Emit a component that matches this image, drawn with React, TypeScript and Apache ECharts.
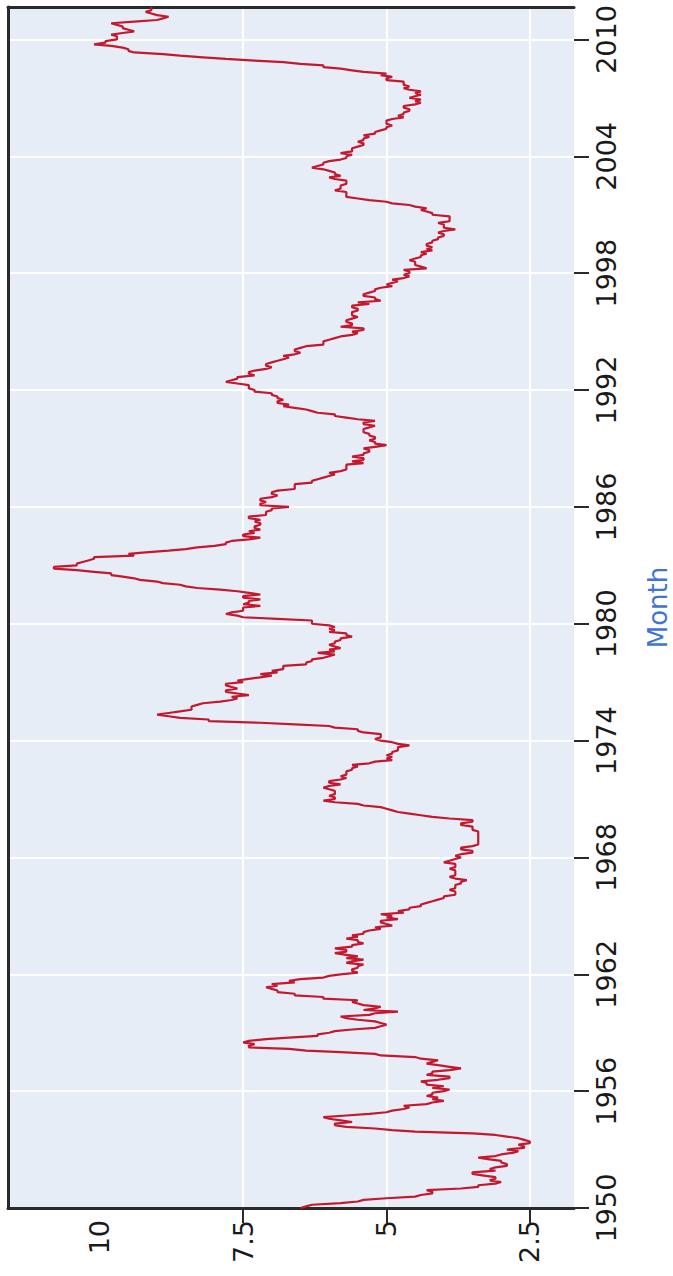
import React, { useEffect, useRef } from "react";
import * as echarts from "echarts";

// US unemployment rate, monthly, by decade (Jan of first year onward)
const u1950s = [
  6.5, 6.4, 6.3, 5.8, 5.5, 5.4, 5.0, 4.5, 4.4, 4.2, 4.2, 4.3,
  3.7, 3.4, 3.4, 3.1, 3.0, 3.2, 3.1, 3.1, 3.3, 3.5, 3.5, 3.1,
  3.2, 3.1, 2.9, 2.9, 3.0, 3.0, 3.2, 3.4, 3.1, 3.0, 2.8, 2.7,
  2.9, 2.6, 2.6, 2.7, 2.5, 2.5, 2.6, 2.7, 2.9, 3.1, 3.5, 4.5,
  4.9, 5.2, 5.7, 5.9, 5.9, 5.6, 5.8, 6.0, 6.1, 5.7, 5.3, 5.0,
  4.9, 4.7, 4.6, 4.7, 4.3, 4.2, 4.0, 4.2, 4.1, 4.3, 4.2, 4.2,
  4.0, 3.9, 4.2, 4.0, 4.3, 4.3, 4.4, 4.1, 3.9, 3.9, 4.3, 4.2,
  4.2, 3.9, 3.7, 3.9, 4.1, 4.3, 4.2, 4.1, 4.4, 4.5, 5.1, 5.2,
  5.8, 6.4, 6.7, 7.4, 7.4, 7.3, 7.5, 7.4, 7.1, 6.7, 6.2, 6.2,
  6.0, 5.9, 5.6, 5.2, 5.1, 5.0, 5.1, 5.2, 5.5, 5.7, 5.8, 5.3,
];
const u1960s = [
  5.2, 4.8, 5.4, 5.2, 5.1, 5.4, 5.5, 5.6, 5.5, 6.1, 6.1, 6.6,
  6.6, 6.9, 6.9, 7.0, 7.1, 6.9, 7.0, 6.6, 6.7, 6.5, 6.1, 6.0,
  5.8, 5.5, 5.6, 5.6, 5.5, 5.5, 5.4, 5.7, 5.6, 5.4, 5.7, 5.5,
  5.7, 5.9, 5.7, 5.7, 5.9, 5.6, 5.6, 5.4, 5.5, 5.5, 5.7, 5.5,
  5.6, 5.4, 5.4, 5.3, 5.1, 5.2, 4.9, 5.0, 5.1, 5.1, 4.8, 5.0,
  4.9, 5.1, 4.7, 4.8, 4.6, 4.6, 4.4, 4.4, 4.3, 4.2, 4.1, 4.0,
  4.0, 3.8, 3.8, 3.8, 3.9, 3.8, 3.8, 3.8, 3.7, 3.7, 3.6, 3.8,
  3.9, 3.8, 3.8, 3.8, 3.8, 3.9, 3.8, 3.8, 3.8, 4.0, 3.9, 3.8,
  3.7, 3.8, 3.7, 3.5, 3.5, 3.7, 3.7, 3.5, 3.4, 3.4, 3.4, 3.4,
  3.4, 3.4, 3.4, 3.4, 3.4, 3.5, 3.5, 3.5, 3.7, 3.7, 3.5, 3.5,
];
const u1970s = [
  3.9, 4.2, 4.4, 4.6, 4.8, 4.9, 5.0, 5.1, 5.4, 5.5, 5.9, 6.1,
  5.9, 5.9, 6.0, 5.9, 5.9, 5.9, 6.0, 6.1, 6.0, 5.8, 6.0, 6.0,
  5.8, 5.7, 5.8, 5.7, 5.7, 5.7, 5.6, 5.6, 5.5, 5.6, 5.3, 5.2,
  4.9, 5.0, 4.9, 5.0, 4.9, 4.9, 4.8, 4.8, 4.8, 4.6, 4.8, 4.9,
  5.1, 5.2, 5.1, 5.1, 5.1, 5.4, 5.5, 5.5, 5.9, 6.0, 6.6, 7.2,
  8.1, 8.1, 8.6, 8.8, 9.0, 8.8, 8.6, 8.4, 8.4, 8.4, 8.3, 8.2,
  7.9, 7.7, 7.6, 7.7, 7.4, 7.6, 7.8, 7.8, 7.6, 7.7, 7.8, 7.8,
  7.5, 7.6, 7.4, 7.2, 7.0, 7.2, 6.9, 7.0, 6.8, 6.8, 6.8, 6.4,
  6.4, 6.3, 6.3, 6.1, 6.0, 5.9, 6.2, 5.9, 6.0, 5.8, 5.9, 6.0,
  5.9, 5.9, 5.8, 5.8, 5.6, 5.7, 5.7, 6.0, 5.9, 6.0, 5.9, 6.0,
];
const u1980s = [
  6.3, 6.3, 6.3, 6.9, 7.5, 7.6, 7.8, 7.7, 7.5, 7.5, 7.5, 7.2,
  7.5, 7.4, 7.4, 7.2, 7.5, 7.5, 7.2, 7.4, 7.6, 7.9, 8.3, 8.5,
  8.6, 8.9, 9.0, 9.3, 9.4, 9.6, 9.8, 9.8, 10.1, 10.4, 10.8, 10.8,
  10.4, 10.4, 10.3, 10.2, 10.1, 10.1, 9.4, 9.5, 9.2, 8.8, 8.5, 8.3,
  8.0, 7.8, 7.8, 7.7, 7.4, 7.2, 7.5, 7.5, 7.3, 7.4, 7.2, 7.3,
  7.3, 7.2, 7.2, 7.3, 7.2, 7.4, 7.4, 7.1, 7.1, 7.1, 7.0, 7.0,
  6.7, 7.2, 7.2, 7.1, 7.2, 7.2, 7.0, 6.9, 7.0, 7.0, 6.9, 6.6,
  6.6, 6.6, 6.6, 6.3, 6.3, 6.2, 6.1, 6.0, 5.9, 6.0, 5.8, 5.7,
  5.7, 5.7, 5.7, 5.4, 5.6, 5.4, 5.4, 5.6, 5.4, 5.4, 5.3, 5.3,
  5.4, 5.2, 5.0, 5.2, 5.2, 5.3, 5.2, 5.2, 5.3, 5.3, 5.4, 5.4,
];
const u1990s = [
  5.4, 5.3, 5.2, 5.4, 5.4, 5.2, 5.5, 5.7, 5.9, 5.9, 6.2, 6.3,
  6.4, 6.6, 6.8, 6.7, 6.9, 6.9, 6.8, 6.9, 6.9, 7.0, 7.0, 7.3,
  7.3, 7.4, 7.4, 7.4, 7.6, 7.8, 7.7, 7.6, 7.6, 7.3, 7.4, 7.4,
  7.3, 7.1, 7.0, 7.1, 7.1, 7.0, 6.9, 6.8, 6.7, 6.8, 6.6, 6.5,
  6.6, 6.6, 6.5, 6.4, 6.1, 6.1, 6.1, 6.0, 5.9, 5.8, 5.6, 5.5,
  5.6, 5.4, 5.4, 5.8, 5.6, 5.6, 5.7, 5.7, 5.6, 5.5, 5.6, 5.6,
  5.6, 5.5, 5.5, 5.6, 5.6, 5.3, 5.5, 5.1, 5.2, 5.2, 5.4, 5.4,
  5.3, 5.2, 5.2, 5.1, 4.9, 5.0, 4.9, 4.8, 4.9, 4.7, 4.6, 4.7,
  4.6, 4.6, 4.7, 4.3, 4.4, 4.5, 4.5, 4.5, 4.6, 4.5, 4.4, 4.4,
  4.3, 4.4, 4.2, 4.3, 4.2, 4.3, 4.3, 4.2, 4.2, 4.1, 4.1, 4.0,
];
const u2000s = [
  4.0, 4.1, 4.0, 3.8, 4.0, 4.0, 4.0, 4.1, 3.9, 3.9, 3.9, 3.9,
  4.2, 4.2, 4.3, 4.4, 4.3, 4.5, 4.6, 4.9, 5.0, 5.3, 5.5, 5.7,
  5.7, 5.7, 5.7, 5.9, 5.8, 5.8, 5.8, 5.7, 5.7, 5.7, 5.9, 6.0,
  5.8, 5.9, 5.9, 6.0, 6.1, 6.3, 6.2, 6.1, 6.1, 6.0, 5.8, 5.7,
  5.7, 5.6, 5.8, 5.6, 5.6, 5.6, 5.5, 5.4, 5.4, 5.5, 5.4, 5.4,
  5.3, 5.4, 5.2, 5.2, 5.1, 5.0, 5.0, 4.9, 5.0, 5.0, 5.0, 4.9,
  4.7, 4.8, 4.7, 4.7, 4.6, 4.6, 4.7, 4.7, 4.5, 4.4, 4.5, 4.4,
  4.6, 4.5, 4.4, 4.5, 4.4, 4.6, 4.7, 4.6, 4.7, 4.7, 4.7, 5.0,
  5.0, 4.9, 5.1, 5.0, 5.4, 5.6, 5.8, 6.1, 6.1, 6.5, 6.8, 7.3,
  7.8, 8.2, 8.6, 8.9, 9.4, 9.5, 9.5, 9.6, 9.8, 10.1, 9.9, 9.9,
];
const u2010s = [
  9.7, 9.7, 9.7, 9.8, 9.6, 9.4, 9.5, 9.6, 9.6, 9.7, 9.8, 9.4,
  9.0, 8.9, 8.8, 9.0, 9.1, 9.2, 9.1, 9.1, 9.1,
];
const decadeStarts = [1950, 1960, 1970, 1980, 1990, 2000, 2010];
const decades = [u1950s, u1960s, u1970s, u1980s, u1990s, u2000s, u2010s];

const valueLabels = [2.5, 5, 7.5, 10];
const valueTicks = [2.5, 5, 7.5];
const yearStart = 1950;
const yearStep = 6;
const axisTitle = "Month";

export default function App() {
  const ref = useRef<HTMLDivElement>(null);
  useEffect(() => {
    if (!ref.current) return;
    const chart = echarts.init(ref.current, null, { renderer: "svg" });
    const points: number[][] = [];
    decades.forEach((arr, d) => {
      arr.forEach((v, i) => points.push([v, decadeStarts[d] + i / 12]));
    });
    const lastT = points[points.length - 1][1];
    const font = "DejaVu Sans";
    chart.setOption({
      animation: false,
      backgroundColor: "#ffffff",
      grid: {
        left: 8,
        right: 99,
        top: 7,
        bottom: 68,
        show: true,
        backgroundColor: "#e7edf7",
        borderWidth: 0,
        containLabel: false,
        outerBoundsMode: "none",
      },
      xAxis: [
        {
          type: "value",
          position: "bottom",
          inverse: true,
          min: 1.73,
          max: 11.6,
          axisLine: { show: true, lineStyle: { color: "#2a2a2a", width: 3 } },
          axisTick: {
            show: true,
            customValues: valueTicks,
            length: 15,
            lineStyle: { color: "#2a2a2a", width: 2 },
          },
          axisLabel: {
            customValues: valueLabels,
            rotate: 90,
            margin: 12,
            fontFamily: font,
            fontSize: 27,
            color: "#1a1a1a",
            formatter: (v: number) => String(v),
          },
          splitLine: { show: true, lineStyle: { color: "#ffffff", width: 2 } },
        },
        {
          type: "value",
          position: "top",
          min: 1.73,
          max: 11.6,
          axisLine: { show: true, onZero: false, lineStyle: { color: "#2a2a2a", width: 3 } },
          axisTick: { show: false },
          axisLabel: { show: false },
          splitLine: { show: false },
        },
      ],
      yAxis: [
        {
          type: "value",
          position: "right",
          min: yearStart,
          max: lastT,
          interval: yearStep,
          name: axisTitle,
          nameLocation: "middle",
          nameRotate: 90,
          nameGap: 71,
          nameTextStyle: {
            fontFamily: font,
            fontSize: 26,
            lineHeight: 26,
            color: "#3f74d6",
          },
          axisLine: { show: false },
          axisTick: {
            show: true,
            length: 15,
            lineStyle: { color: "#2a2a2a", width: 2 },
          },
          axisLabel: {
            rotate: 90,
            margin: 19,
            fontFamily: font,
            fontSize: 27,
            color: "#1a1a1a",
            showMaxLabel: false,
            formatter: (v: number) => String(Math.round(v)),
          },
          splitLine: { show: true, lineStyle: { color: "#ffffff", width: 2 } },
        },
        {
          type: "value",
          position: "left",
          min: yearStart,
          max: lastT,
          axisLine: { show: true, onZero: false, lineStyle: { color: "#2a2a2a", width: 3 } },
          axisTick: { show: false },
          axisLabel: { show: false },
          splitLine: { show: false },
        },
      ],
      series: [
        {
          type: "line",
          xAxisIndex: 0,
          yAxisIndex: 0,
          data: points,
          showSymbol: false,
          symbol: "none",
          lineStyle: { color: "#c4182f", width: 2.2 },
        },
      ],
    });
    return () => chart.dispose();
  }, []);
  return (
    <div
      ref={ref}
      style={{ position: "fixed", left: 0, top: 0, width: 673, height: 1276 }}
    />
  );
}
